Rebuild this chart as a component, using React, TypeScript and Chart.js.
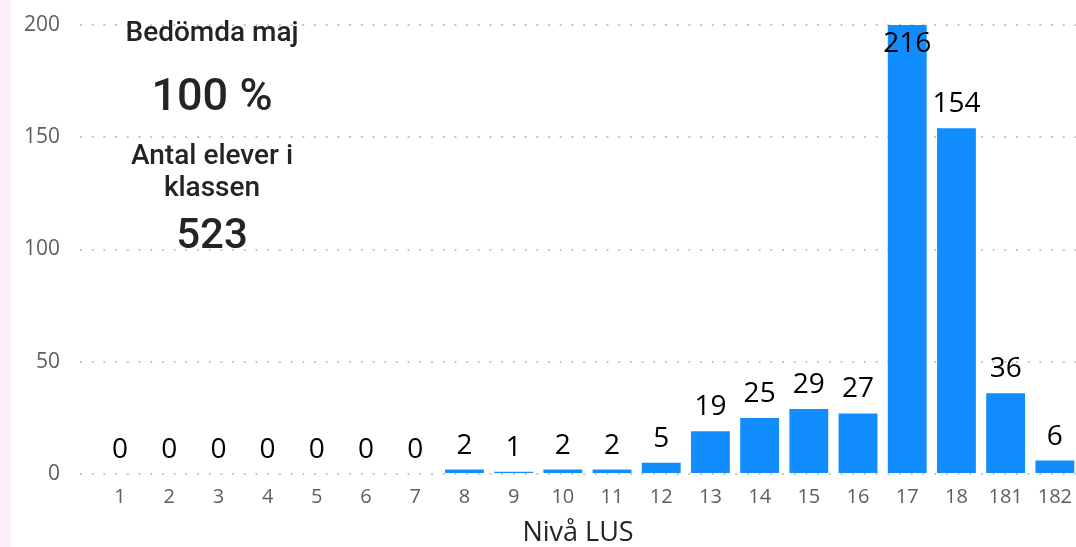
import React, { useEffect, useRef } from "react";
import { Chart, registerables } from "chart.js";

Chart.register(...registerables);

const levels = ["1", "2", "3", "4", "5", "6", "7", "8", "9", "10", "11", "12", "13", "14", "15", "16", "17", "18", "181", "182"];
const counts = [0, 0, 0, 0, 0, 0, 0, 2, 1, 2, 2, 5, 19, 25, 29, 27, 216, 154, 36, 6];
const yTicks = [0, 50, 100, 150, 200];
const axisTitle = "Nivå LUS";
const cardTitle = "Bedömda maj";
const cardPercent = "100 %";
const cardSubtitleLines = ["Antal elever i", "klassen"];
const cardTotal = "523";

const dataLabelPlugin = {
  id: "dataLabels",
  afterDatasetsDraw(chart: any) {
    const ctx = chart.ctx;
    const area = chart.chartArea;
    const meta = chart.getDatasetMeta(0);
    ctx.save();
    ctx.font = "28px 'Open Sans'";
    ctx.fillStyle = "#000000";
    ctx.textAlign = "center";
    ctx.textBaseline = "alphabetic";
    meta.data.forEach((el: any, i: number) => {
      let y = el.y - 16;
      if (el.y < area.top) y = area.top + 27;
      ctx.fillText(String(counts[i]), el.x, y);
    });
    ctx.restore();
  },
};

export default function App() {
  const canvasRef = useRef<HTMLCanvasElement | null>(null);

  useEffect(() => {
    document.body.style.margin = "0";
    const canvas = canvasRef.current;
    if (!canvas) return;
    const chart = new Chart(canvas, {
      type: "bar",
      data: {
        datasets: [
          {
            data: counts.map((v, i) => ({ x: i, y: v })),
            backgroundColor: "#118DFF",
            categoryPercentage: 1,
            barPercentage: 0.79,
          },
        ],
      },
      options: {
        animation: false,
        responsive: false,
        devicePixelRatio: 1,
        layout: { padding: { top: 25, right: 0, bottom: 0, left: 0 } },
        plugins: {
          legend: { display: false },
          tooltip: { enabled: false },
        },
        scales: {
          x: {
            type: "linear",
            offset: false,
            min: -0.813,
            max: 19.43,
            afterBuildTicks: (s: any) => {
              s.ticks = levels.map((_, i) => ({ value: i }));
            },
            grid: { display: false, drawTicks: true, tickLength: 11, offset: false },
            border: { display: false },
            ticks: {
              autoSkip: false,
              maxRotation: 0,
              padding: 0,
              color: "#605E5C",
              font: { family: "'Open Sans'", size: 20 },
              callback: (v: any) => levels[v as number] ?? "",
            },
            title: {
              display: true,
              text: axisTitle,
              color: "#252423",
              font: { family: "'Open Sans'", size: 27, lineHeight: 1 },
              padding: { top: 11, bottom: 0 },
            },
          },
          y: {
            min: 0,
            max: 200,
            afterBuildTicks: (s: any) => {
              s.ticks = yTicks.map((v) => ({ value: v }));
            },
            afterFit: (s: any) => {
              s.width = 80;
            },
            grid: { color: "#C8C6C4", lineWidth: 2, drawTicks: false },
            border: { display: false, dash: [2, 9.7] },
            ticks: {
              padding: 20,
              color: "#605E5C",
              font: { family: "'Open Sans'", size: 21, lineHeight: 0.4 },
            },
          },
        },
      },
      plugins: [dataLabelPlugin],
    });
    return () => chart.destroy();
  }, []);

  const cardFont = "Roboto, 'Open Sans', sans-serif";
  const textStyle = (top: number, size: number, lh: number): React.CSSProperties => ({
    position: "absolute",
    left: 112,
    width: 200,
    top,
    textAlign: "center",
    fontFamily: cardFont,
    fontWeight: 500,
    fontSize: size,
    lineHeight: lh + "px",
    color: "#252423",
    whiteSpace: "nowrap",
  });

  return (
    <div style={{ position: "relative", width: 1076, height: 547, overflow: "hidden", background: "#ffffff" }}>
      <div style={{ position: "absolute", left: 0, top: 0, width: 11, height: 547, background: "#FCEEF6" }} />
      <canvas ref={canvasRef} width={1076} height={547} style={{ position: "absolute", left: 0, top: 0 }} />
      <div style={textStyle(18, 28, 28)}>{cardTitle}</div>
      <div style={textStyle(72, 45, 45)}>{cardPercent}</div>
      <div style={textStyle(139, 28, 32)}>
        {cardSubtitleLines.map((l, i) => (
          <div key={i}>{l}</div>
        ))}
      </div>
      <div style={textStyle(213, 42, 42)}>{cardTotal}</div>
    </div>
  );
}
